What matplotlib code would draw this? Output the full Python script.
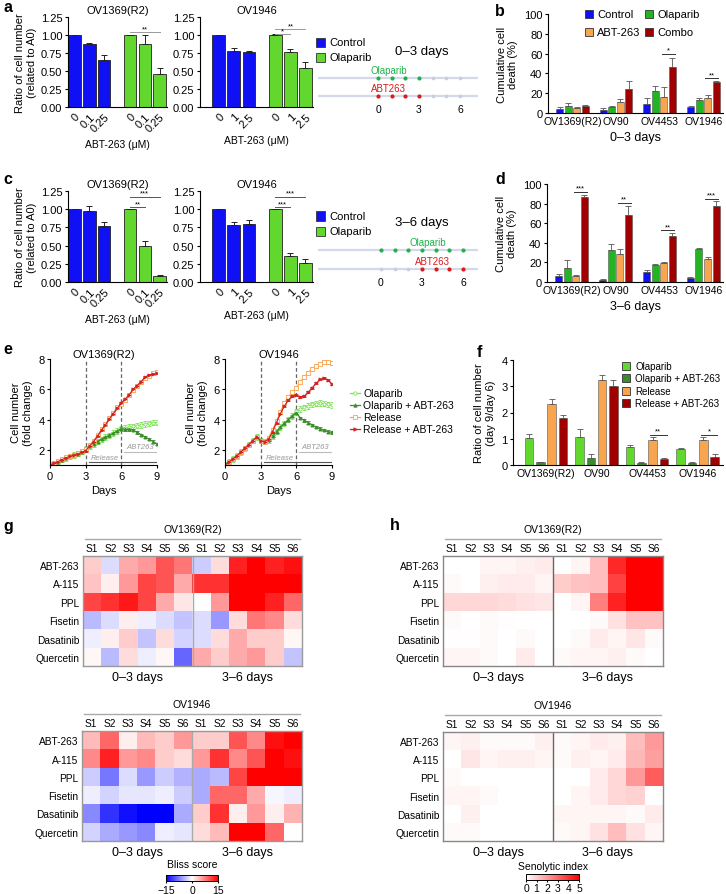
import numpy as np
import matplotlib
matplotlib.use('Agg')
import matplotlib.pyplot as plt
from matplotlib.colors import LinearSegmentedColormap, Normalize
from matplotlib.cm import ScalarMappable
from matplotlib.patches import Rectangle
from matplotlib.lines import Line2D

plt.rcParams['font.family'] = ['Liberation Sans', 'DejaVu Sans']
plt.rcParams['font.size'] = 7
plt.rcParams['axes.linewidth'] = 0.8
plt.rcParams['xtick.major.width'] = 0.8
plt.rcParams['ytick.major.width'] = 0.8
plt.rcParams['xtick.major.size'] = 2.5
plt.rcParams['ytick.major.size'] = 2.5
plt.rcParams['xtick.major.pad'] = 1.5
plt.rcParams['ytick.major.pad'] = 1.5

# ---------------- data ----------------
dose_1369 = ['0', '0.1', '0.25']
dose_1946 = ['0', '1', '2.5']
groups_ac = ['Control', 'Olaparib']

a_1369_ctrl = [1.00, 0.87, 0.65]; a_1369_ctrl_err = [0.0, 0.02, 0.07]
a_1369_olap = [1.00, 0.87, 0.46]; a_1369_olap_err = [0.0, 0.13, 0.08]
a_1946_ctrl = [1.00, 0.78, 0.77]; a_1946_ctrl_err = [0.0, 0.04, 0.01]
a_1946_olap = [1.00, 0.76, 0.54]; a_1946_olap_err = [0.01, 0.05, 0.08]

c_1369_ctrl = [1.00, 0.97, 0.77]; c_1369_ctrl_err = [0.0, 0.08, 0.05]
c_1369_olap = [1.00, 0.49, 0.08]; c_1369_olap_err = [0.0, 0.07, 0.02]
c_1946_ctrl = [1.00, 0.78, 0.80]; c_1946_ctrl_err = [0.0, 0.05, 0.05]
c_1946_olap = [1.00, 0.36, 0.26]; c_1946_olap_err = [0.0, 0.04, 0.05]

cell_lines = ['OV1369(R2)', 'OV90', 'OV4453', 'OV1946']
bd_groups = ['Control', 'Olaparib', 'ABT-263', 'Combo']
b_ctrl = [4.5, 3.5, 9.0, 6.0];    b_ctrl_err = [2.0, 1.5, 6.0, 1.5]
b_olap = [7.0, 6.5, 22.0, 13.0];  b_olap_err = [3.0, 1.0, 5.5, 2.5]
b_abt = [5.0, 11.0, 16.0, 15.0];  b_abt_err = [1.5, 3.0, 10.5, 3.0]
b_combo = [7.0, 24.0, 46.0, 31.0]; b_combo_err = [1.5, 8.5, 10.0, 1.0]

d_ctrl = [6.0, 2.5, 10.0, 4.5];   d_ctrl_err = [2.0, 0.5, 2.5, 1.0]
d_olap = [14.0, 33.0, 17.0, 34.0]; d_olap_err = [8.0, 5.5, 1.5, 0.5]
d_abt = [6.0, 29.0, 19.5, 23.0];  d_abt_err = [1.0, 4.5, 0.5, 3.0]
d_combo = [87.0, 68.0, 47.0, 78.0]; d_combo_err = [2.0, 10.0, 2.5, 5.0]

f_groups = ['Olaparib', 'Olaparib + ABT-263', 'Release', 'Release + ABT-263']
f_olap = [1.02, 1.05, 0.70, 0.60];     f_olap_err = [0.15, 0.32, 0.08, 0.05]
f_olap_abt = [0.10, 0.28, 0.07, 0.08]; f_olap_abt_err = [0.03, 0.13, 0.05, 0.04]
f_rel = [2.32, 3.22, 0.97, 0.97];      f_rel_err = [0.18, 0.20, 0.10, 0.10]
f_rel_abt = [1.80, 3.00, 0.22, 0.30];  f_rel_abt_err = [0.12, 0.25, 0.06, 0.12]

# panel e: fold change every 1/3 day, days 0..9
e_days = np.linspace(0, 9, 28)
e1369_olap = [1.0, 1.1, 1.22, 1.35, 1.47, 1.57, 1.65, 1.75, 1.88, 2.08, 2.25, 2.4, 2.55, 2.7,
              2.85, 2.95, 3.1, 3.25, 3.4, 3.45, 3.5, 3.55, 3.6, 3.65, 3.7, 3.75, 3.8, 3.8]
e1369_olap_abt = [1.0, 1.1, 1.22, 1.35, 1.47, 1.57, 1.65, 1.75, 1.88, 2.08, 2.25, 2.4, 2.55, 2.7,
                  2.85, 2.95, 3.1, 3.25, 3.4, 3.35, 3.35, 3.3, 3.15, 3.0, 2.85, 2.7, 2.55, 2.4]
e1369_rel = [1.0, 1.12, 1.25, 1.38, 1.5, 1.6, 1.68, 1.78, 1.9, 2.05, 2.3, 2.6, 2.95, 3.35,
             3.7, 4.1, 4.45, 4.8, 5.05, 5.3, 5.6, 5.95, 6.2, 6.5, 6.75, 6.9, 7.05, 7.15]
e1369_rel_abt = [1.0, 1.1, 1.22, 1.35, 1.47, 1.57, 1.65, 1.72, 1.85, 1.95, 2.25, 2.55, 2.9, 3.3,
                 3.65, 4.05, 4.4, 4.75, 5.1, 5.35, 5.65, 6.0, 6.25, 6.5, 6.8, 6.95, 7.0, 7.05]
e1946_olap = [1.0, 1.2, 1.4, 1.6, 1.85, 2.1, 2.35, 2.6, 2.85, 2.6, 2.55, 2.65, 2.9, 3.2,
              3.5, 3.75, 4.0, 4.25, 4.55, 4.7, 4.8, 4.9, 5.0, 5.05, 5.1, 5.05, 5.0, 4.95]
e1946_olap_abt = [1.0, 1.2, 1.4, 1.6, 1.85, 2.1, 2.35, 2.6, 2.85, 2.6, 2.55, 2.65, 2.9, 3.2,
                  3.5, 3.75, 4.0, 4.25, 4.45, 4.1, 3.95, 3.8, 3.65, 3.5, 3.4, 3.3, 3.2, 3.15]
e1946_rel = [1.0, 1.2, 1.4, 1.6, 1.85, 2.1, 2.35, 2.6, 2.85, 2.6, 2.55, 2.8, 3.3, 3.9,
             4.5, 5.1, 5.5, 5.8, 6.1, 6.5, 6.8, 7.1, 7.35, 7.55, 7.7, 7.8, 7.8, 7.75]
e1946_rel_abt = [1.0, 1.2, 1.4, 1.6, 1.85, 2.1, 2.35, 2.6, 2.85, 2.6, 2.55, 2.7, 3.2, 3.8,
                 4.4, 4.9, 5.3, 5.55, 5.6, 5.5, 5.55, 5.8, 6.1, 6.4, 6.65, 6.75, 6.6, 6.35]
e_err = {'Olaparib': 0.18, 'Olaparib + ABT-263': 0.08, 'Release': 0.12, 'Release + ABT-263': 0.06}

# heatmaps
agents = ['ABT-263', 'A-115', 'PPL', 'Fisetin', 'Dasatinib', 'Quercetin']
stages = ['S1', 'S2', 'S3', 'S4', 'S5', 'S6']
periods = ['0\u20133 days', '3\u20136 days']
g_1369 = [[3, -2, 5, 6, 10, 8, -3, 2, 13, 15, 13, 14],
          [3.5, 1, 6, 11, 10, 5, 12, 12, 15, 15, 15, 15],
          [11, 12, 13.5, 11, 5, 1.5, 0, 6, 15, 15, 13, 9],
          [-4, -2, 1, -1, -2, -3.5, -2, -6, 2, 8, 7, 2],
          [-1, 1, 3, -3.5, 2, -2.5, -2, 2, 5, 3, 3, 0.5],
          [0.5, -4, 2, -1, 0.5, -9, 5, 3, 5, 6, 3, -3.5]]
g_1946 = [[4, 9, 1, 4, 3, 6, 3, 3, 10, 7, 14, 15],
          [7, 13, 6, 7, 3, 2, 6, 12, 7, 10, 15, 14],
          [-3, -8, -2, -6, -3, -4.5, -5, -4, 11, 15, 15, 15],
          [-1, -2.5, -1.5, -1.5, -1, -3, -5, 9, 9, 5, -0.5, -1],
          [-7, -12, -14, -15, -15, -5, 3, 12, 1, 6, 1, 4.5],
          [-2.5, -5, -6, -7, -1, -1.5, 2, 4, 15, 15, 9, 0]]
h_1369 = [[0, 0, 0.2, 0.2, 0.3, 0.4, 0, 0.2, 1.3, 4.2, 5, 5],
          [0.1, 0, 0.3, 0.4, 0.4, 0.2, 1.0, 1.2, 1.3, 3.7, 5, 5],
          [0.8, 0.8, 0.8, 0.7, 0.6, 0.5, 0, 0.2, 2.5, 4.3, 5, 5],
          [0.1, 0, 0.1, 0.05, 0, 0, 0, 0, 0.1, 0.6, 1.2, 1.2],
          [0.05, 0.05, 0.1, 0, 0.1, 0, 0, 0.1, 0.4, 0.2, 0.5, 0.1],
          [0.2, 0.2, 0.1, 0, 0.4, 0, 0.1, 0.2, 0.2, 0.3, 0.1, 0]]
h_1946 = [[0.2, 0.3, 0.1, 0.1, 0.1, 0.3, 0.1, 0.2, 0.4, 0.3, 1.3, 2.0],
          [0, 0.5, 0.2, 0.3, 0.3, 0.2, 0.1, 0.3, 0.2, 0.4, 1.4, 1.9],
          [0.1, 0, 0, 0, 0, 0, 0, 0, 0.4, 0.8, 2.0, 3.2],
          [0.2, 0.2, 0.1, 0, 0, 0, 0, 0.2, 0.4, 0.8, 0.9, 0],
          [0, 0.3, 0, 0, 0, 0, 0.2, 0.2, 0.2, 0.2, 0.1, 0.4],
          [0.1, 0.1, 0, 0, 0, 0, 0.1, 0.2, 0.6, 1.3, 0.6, 0.2]]

# ---------------- styling ----------------
C_BLUE = '#1010f5'
C_LIME = '#62d82e'
C_GREEN = '#22b422'
C_DGREEN = '#3c8c2c'
C_ORANGE = '#f8a550'
C_DRED = '#a00000'
C_RED = '#d42222'
C_LGREEN = '#7fe05a'
TICK_FS = 8

W, H = 726, 895
fig = plt.figure(figsize=(W / 100, H / 100), dpi=100)


def pax(x0, y0, x1, y1):
    return fig.add_axes([x0 / W, 1 - y1 / H, (x1 - x0) / W, (y1 - y0) / H])


def ftext(x, y, s, **kw):
    kw.setdefault('ha', 'center')
    kw.setdefault('va', 'center')
    fig.text(x / W, 1 - y / H, s, **kw)


def fpatch(x, y, color, size=8):
    fig.patches.append(Rectangle((x / W, 1 - (y + size / 2) / H), size / W, size / H,
                                 transform=fig.transFigure, facecolor=color,
                                 edgecolor='#333333', lw=0.6))


def clean(ax):
    ax.spines['top'].set_visible(False)
    ax.spines['right'].set_visible(False)


def sig(ax, x1, x2, y, txt, color='#888888', fs=5.5):
    ax.plot([x1, x2], [y, y], color=color, lw=0.7, clip_on=False)
    ax.text((x1 + x2) / 2, y, txt, ha='center', va='bottom', fontsize=fs, clip_on=False)


# ---------- panels a & c ----------
pos_ac = [0, 1, 2, 3.75, 4.75, 5.75]


def ratio_panel(box, ctrl, ctrl_err, olap, olap_err, doses, title, xlim, sigs, sigc):
    ax = pax(*box)
    vals = ctrl + olap
    errs = ctrl_err + olap_err
    cols = [C_BLUE] * 3 + [C_LIME] * 3
    ax.bar(pos_ac, vals, width=0.85, color=cols, edgecolor='#222222', lw=0.6,
           yerr=[np.zeros(6), errs], error_kw=dict(lw=0.7, capsize=2.5, capthick=0.7, ecolor='#222222'))
    ax.set_xlim(*xlim)
    ax.set_ylim(0, 1.25)
    ax.set_yticks([0, 0.25, 0.5, 0.75, 1.0, 1.25])
    ax.set_yticklabels(['0.00', '0.25', '0.50', '0.75', '1.00', '1.25'], fontsize=TICK_FS)
    ax.set_xticks(pos_ac)
    ax.set_xticklabels(doses + doses, rotation=45, ha='right', rotation_mode='anchor', fontsize=TICK_FS)
    ax.tick_params(axis='x', length=0, pad=3)
    clean(ax)
    ax.set_title(title, fontsize=8, pad=3)
    ax.set_xlabel('ABT-263 (\u03bcM)', fontsize=7.5, labelpad=4)
    for (i1, i2, y, t) in sigs:
        sig(ax, pos_ac[i1], pos_ac[i2], y, t, color=sigc)
    return ax


ax = ratio_panel((68, 18, 167, 108), a_1369_ctrl, a_1369_ctrl_err, a_1369_olap, a_1369_olap_err,
                 dose_1369, 'OV1369(R2)', (-0.45, 6.25), [(3, 5, 1.04, '**')], '#999999')
ax.set_ylabel('Ratio of cell number\n(related to A0)', fontsize=8, labelpad=3)
ratio_panel((200, 18, 313, 108), a_1946_ctrl, a_1946_ctrl_err, a_1946_olap, a_1946_olap_err,
            dose_1946, 'OV1946', (-1.25, 6.25), [(3, 4, 1.01, '*'), (3, 5, 1.08, '**')], '#999999')
ax = ratio_panel((68, 192, 167, 283), c_1369_ctrl, c_1369_ctrl_err, c_1369_olap, c_1369_olap_err,
                 dose_1369, 'OV1369(R2)', (-0.45, 6.25), [(3, 4, 1.03, '**'), (3, 5, 1.17, '***')], '#555555')
ax.set_ylabel('Ratio of cell number\n(related to A0)', fontsize=8, labelpad=3)
ratio_panel((200, 192, 313, 283), c_1946_ctrl, c_1946_ctrl_err, c_1946_olap, c_1946_olap_err,
            dose_1946, 'OV1946', (-1.25, 6.25), [(3, 4, 1.03, '***'), (3, 5, 1.17, '***')], '#555555')

# legends a, c
for yy in (43, 217):
    for k, (lab, col) in enumerate(zip(groups_ac, [C_BLUE, C_LIME])):
        fpatch(316, yy + 15 * k, col, size=9)
        ftext(329, yy + 15 * k, lab, ha='left', fontsize=8)

# schematics
def schematic(box, day0_px, y_olap, y_abt, olap_days, abt_days, grey_olap, grey_abt,
              lab_olap_x, lab_abt_x, title, title_y):
    x0, y0, x1, y1 = box
    ax = pax(*box)
    ppd = 13.67
    xl = ((x0 - day0_px) / ppd, (x1 - day0_px) / ppd)
    ax.set_xlim(*xl)
    ax.set_ylim(y1, y0)
    ax.axis('off')
    for yy in (y_olap, y_abt):
        ax.plot(xl, [yy, yy], color='#d3d9ea', lw=1.6, zorder=1)
    ax.scatter(grey_olap, [y_olap] * len(grey_olap), s=7, color='#c9ceda', zorder=2, lw=0)
    ax.scatter(grey_abt, [y_abt] * len(grey_abt), s=7, color='#c9ceda', zorder=2, lw=0)
    ax.scatter(olap_days, [y_olap] * len(olap_days), s=9, color='#1db34a', zorder=3, lw=0)
    ax.scatter(abt_days, [y_abt] * len(abt_days), s=9, color='#d91c1c', zorder=3, lw=0)
    ax.text(lab_olap_x, y_olap - 7.5, 'Olaparib', color='#1db34a', ha='center', va='center', fontsize=7)
    ax.text(lab_abt_x, y_abt - 7.5, 'ABT263', color='#d91c1c', ha='center', va='center', fontsize=7)
    for d in (0, 3, 6):
        ax.text(d, y_abt + 13, str(d), ha='center', va='center', fontsize=7.5)
    ftext((x0 + x1) / 2 + 24, title_y, title, fontsize=9.5)


schematic((318, 62, 478, 116), 378, 79, 97, [0, 1, 2, 3], [0, 1, 2, 3], [4, 5, 6], [4, 5, 6],
          0.8, 0.8, '0\u20133 days', 52)
schematic((318, 234, 478, 290), 381, 251, 270, [0, 1, 2, 3, 4, 5, 6], [3, 4, 5, 6], [], [0, 1, 2],
          3.4, 3.8, '3\u20136 days', 223)

# ---------- panels b & d ----------
bd_cols = [C_BLUE, C_GREEN, C_ORANGE, C_DRED]


def death_panel(box, series, errs, xlabel, sigs):
    ax = pax(*box)
    x = np.arange(len(cell_lines))
    off = 0.195
    for k, (v, e, c) in enumerate(zip(series, errs, bd_cols)):
        ax.bar(x + (k - 1.5) * off, v, width=0.16, color=c, edgecolor='#555555', lw=0.4,
               yerr=[np.zeros(len(v)), e], error_kw=dict(lw=0.6, capsize=2, capthick=0.6, ecolor='#555555'))
    ax.set_xlim(-0.56, 3.45)
    ax.set_ylim(0, 100)
    ax.set_yticks([0, 20, 40, 60, 80, 100])
    ax.tick_params(axis='y', labelsize=TICK_FS)
    ax.set_xticks(x)
    ax.set_xticklabels(cell_lines, fontsize=7.5)
    ax.tick_params(axis='x', length=0, pad=2)
    clean(ax)
    ax.set_ylabel('Cumulative cell\ndeath (%)', fontsize=8, labelpad=4)
    ax.set_xlabel(xlabel, fontsize=9, labelpad=4)
    for (g, y, t) in sigs:
        sig(ax, g + 0.5 * off - 0.05, g + 1.5 * off + 0.05, y, t, color='#333333', fs=5.5)
    return ax


death_panel((548, 15, 723, 114), [b_ctrl, b_olap, b_abt, b_combo],
            [b_ctrl_err, b_olap_err, b_abt_err, b_combo_err], '0\u20133 days',
            [(2, 60, '*'), (3, 35, '**')])
death_panel((547, 185, 723, 283), [d_ctrl, d_olap, d_abt, d_combo],
            [d_ctrl_err, d_olap_err, d_abt_err, d_combo_err], '3\u20136 days',
            [(0, 92, '***'), (1, 81, '**'), (2, 53, '**'), (3, 85, '***')])

# legend b (two columns)
for k, (lab, col) in enumerate(zip(bd_groups, bd_cols)):
    xx = 585 if k % 2 == 0 else 645
    yy = 15 if k < 2 else 33
    fpatch(xx, yy, col, size=8)
    ftext(xx + 12, yy, lab, ha='left', fontsize=8)

# ---------- panel e ----------
e_names = ['Olaparib', 'Olaparib + ABT-263', 'Release', 'Release + ABT-263']
e_style = {'Olaparib': dict(color=C_LGREEN, marker='o', mfc='white'),
           'Olaparib + ABT-263': dict(color=C_DGREEN, marker='^', mfc=C_DGREEN),
           'Release': dict(color=C_ORANGE, marker='s', mfc='white'),
           'Release + ABT-263': dict(color=C_RED, marker='>', mfc=C_RED)}


def growth_panel(box, series, title):
    ax = pax(*box)
    for name, vals in zip(e_names, series):
        st = e_style[name]
        ax.errorbar(e_days, vals, yerr=e_err[name], color=st['color'], marker=st['marker'],
                    mfc=st['mfc'], mec=st['color'], ms=2.2, mew=0.6, lw=0.9, elinewidth=0.5,
                    capsize=1.2, capthick=0.5)
    ax.set_xlim(0, 9)
    ax.set_ylim(1, 8)
    ax.set_xticks([0, 3, 6, 9])
    ax.set_yticks([2, 4, 6, 8])
    ax.tick_params(labelsize=TICK_FS)
    clean(ax)
    for d in (3, 6):
        ax.axvline(d, color='#666666', lw=0.9, ls=(0, (3, 2)))
    ax.set_title(title, fontsize=8, pad=1)
    ax.set_xlabel('Days', fontsize=8, labelpad=3)
    ax.set_ylabel('Cell number\n(fold change)', fontsize=8, labelpad=4)
    ax.plot([3.3, 9], [1.2, 1.2], color='#555555', lw=0.8)
    ax.text(4.6, 1.52, 'Release', style='italic', color='#999999', fontsize=5.5, ha='center', va='center')
    ax.plot([6.2, 9], [1.87, 1.87], color='#bbbbbb', lw=0.8)
    ax.text(7.6, 2.2, 'ABT263', style='italic', color='#999999', fontsize=5.5, ha='center', va='center')
    return ax


growth_panel((50, 360, 157, 466), [e1369_olap, e1369_olap_abt, e1369_rel, e1369_rel_abt], 'OV1369(R2)')
growth_panel((225, 360, 332, 466), [e1946_olap, e1946_olap_abt, e1946_rel, e1946_rel_abt], 'OV1946')

for k, name in enumerate(e_names):
    st = e_style[name]
    yy = 394 + 12 * k
    fig.add_artist(Line2D([350 / W, 360 / W], [1 - yy / H] * 2, color=st['color'], lw=0.9,
                          transform=fig.transFigure))
    fig.add_artist(Line2D([355 / W], [1 - yy / H], color=st['color'], marker=st['marker'],
                          mfc=st['mfc'], mec=st['color'], ms=2.4, mew=0.6, transform=fig.transFigure))
    ftext(363, yy, name, ha='left', fontsize=7.5)

# ---------- panel f ----------
f_cols = [C_LIME, C_DGREEN, C_ORANGE, C_DRED]
ax = pax(513, 361, 723, 466)
xf = np.arange(len(cell_lines))
offf = 0.223
for k, (v, e, c) in enumerate(zip([f_olap, f_olap_abt, f_rel, f_rel_abt],
                                  [f_olap_err, f_olap_abt_err, f_rel_err, f_rel_abt_err], f_cols)):
    ax.bar(xf + (k - 1.5) * offf, v, width=0.17, color=c, edgecolor='#555555', lw=0.4,
           yerr=[np.zeros(4), e], error_kw=dict(lw=0.6, capsize=2, capthick=0.6, ecolor='#555555'))
ax.set_xlim(-0.65, 3.5)
ax.set_ylim(0, 4)
ax.set_yticks([0, 1, 2, 3, 4])
ax.tick_params(axis='y', labelsize=TICK_FS)
ax.set_xticks(xf)
ax.set_xticklabels(cell_lines, fontsize=7.5)
ax.tick_params(axis='x', length=0, pad=2)
clean(ax)
ax.set_ylabel('Ratio of cell number\n(day 9/day 6)', fontsize=8, labelpad=4)
for (g, y, t) in [(2, 1.15, '**'), (3, 1.15, '*')]:
    sig(ax, g + 0.5 * offf - 0.05, g + 1.5 * offf + 0.05, y, t, color='#333333', fs=5.5)
for k, (lab, col) in enumerate(zip(f_groups, f_cols)):
    yy = 367 + 12.3 * k
    fpatch(622, yy, col, size=8)
    ftext(635, yy, lab, ha='left', fontsize=7)

# ---------- heatmaps g & h ----------
cmap_h = LinearSegmentedColormap.from_list('wr', ['#ffffff', '#ff0000'])


def heat(box, data, cmap, vmin, vmax, title, sepc, bordc):
    x0, y0, x1, y1 = box
    ax = pax(*box)
    ax.imshow(np.array(data, dtype=float), cmap=cmap, vmin=vmin, vmax=vmax, aspect='auto',
              interpolation='nearest')
    ax.set_xticks(range(12))
    ax.set_xticklabels(stages * 2, fontsize=7.3)
    ax.xaxis.tick_top()
    ax.set_yticks(range(6))
    ax.set_yticklabels(agents, fontsize=7.3)
    ax.tick_params(length=0, pad=2.5)
    for s in ax.spines.values():
        s.set_color(bordc)
        s.set_linewidth(1.0)
    ax.axvline(5.5, color=sepc, lw=1.0)
    ftext((x0 + x1) / 2, y0 - 27, title, fontsize=7.5)
    fig.add_artist(Line2D([(x0 + 2) / W, (x1 - 2) / W], [1 - (y0 - 17) / H] * 2, color='#aaaaaa',
                          lw=1.0, transform=fig.transFigure))
    cw = (x1 - x0) / 12
    ftext(x0 + 3 * cw, y1 + 11, periods[0], fontsize=9)
    ftext(x0 + 9 * cw, y1 + 11, periods[1], fontsize=9)
    return ax


heat((83, 557, 302, 667), g_1369, 'bwr', -15, 15, 'OV1369(R2)', '#aaaaaa', '#999999')
heat((82, 732, 302, 842), g_1946, 'bwr', -15, 15, 'OV1946', '#aaaaaa', '#999999')
heat((443, 557, 663, 667), h_1369, cmap_h, 0, 5, 'OV1369(R2)', '#666666', '#888888')
heat((443, 733, 663, 842), h_1946, cmap_h, 0, 5, 'OV1946', '#666666', '#888888')

# colorbars
cax = pax(166, 876, 218, 882)
cb = fig.colorbar(ScalarMappable(Normalize(-15, 15), 'bwr'), cax=cax, orientation='horizontal')
cb.set_ticks([-15, 0, 15])
cb.set_ticklabels(['\u221215', '0', '15'])
cb.ax.tick_params(labelsize=7.5, length=1.5, pad=1.5)
cb.outline.set_linewidth(0.7)
ftext(192, 865, 'Bliss score', fontsize=7.5)

cax = pax(526, 875, 579, 881)
cb = fig.colorbar(ScalarMappable(Normalize(0, 5), cmap_h), cax=cax, orientation='horizontal')
cb.set_ticks([0, 1, 2, 3, 4, 5])
cb.ax.tick_params(labelsize=7.5, length=1.5, pad=1.0)
cb.outline.set_linewidth(0.7)
ftext(553, 867, 'Senolytic index', fontsize=7.5)

# panel letters
for (lx, ly, L) in [(3, 8, 'a'), (495, 12, 'b'), (3, 180, 'c'), (495, 180, 'd'),
                    (3, 350, 'e'), (477, 353, 'f'), (3, 526, 'g'), (390, 526, 'h')]:
    ftext(lx, ly, L, ha='left', fontsize=11.5, fontweight='bold')

fig.savefig('out.png', dpi=100)
